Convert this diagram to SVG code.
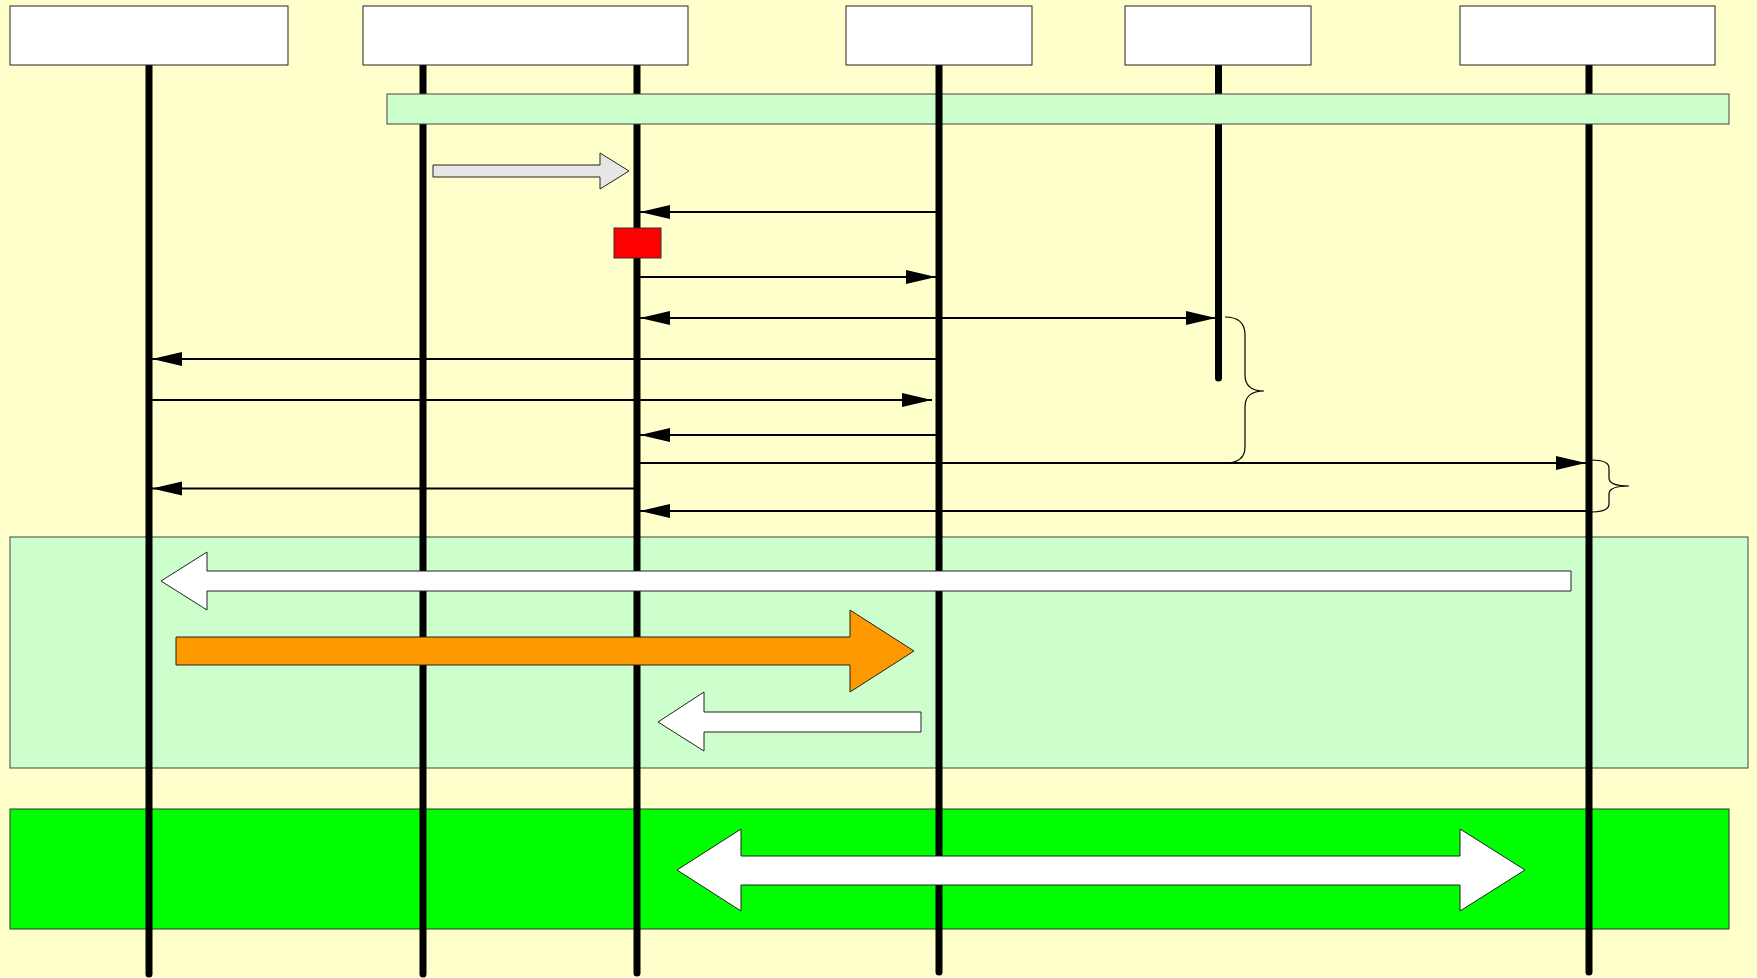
<svg xmlns="http://www.w3.org/2000/svg" width="1757" height="978" viewBox="0 0 1757 978">
<style>
.bg{fill:#FFFFCC}
.box{fill:#FFFFFF;stroke:#222;stroke-width:1}
.life{stroke:#000;stroke-width:7;stroke-linecap:round;fill:none}
.band{fill:#CCFFCC;stroke:#444;stroke-width:1}
.msg{stroke:#000;stroke-width:2;fill:none}
.blk{stroke:#222;stroke-width:1}
.brace{stroke:#000;stroke-width:1.2;fill:none}
</style>
<defs>
<marker id="ah" markerUnits="userSpaceOnUse" markerWidth="31" markerHeight="15" refX="30" refY="7" orient="auto-start-reverse">
<path d="M0,0 L30,7 L0,14 Z" fill="#000"/>
</marker>
</defs>
<rect class="bg" x="0" y="0" width="1757" height="978"/>
<g id="regions">
<rect id="region-mid" class="band" x="10" y="537" width="1738" height="231"/>
<rect id="region-bottom" x="10" y="809" width="1719" height="120" fill="#00FF00" stroke="#333" stroke-width="1"/>
</g>
<g id="lifelines">
<line class="life" x1="149" y1="65" x2="149" y2="974"/>
<line class="life" x1="423" y1="65" x2="423" y2="974"/>
<line class="life" x1="637" y1="65" x2="637" y2="973"/>
<line class="life" x1="1218.5" y1="65" x2="1218.5" y2="378"/>
<line class="life" x1="1589" y1="65" x2="1589" y2="972"/>
</g>
<g id="top-bar">
<rect class="band" x="387" y="94" width="1342" height="30"/>
</g>
<g id="lifeline-4">
<line class="life" x1="939" y1="65" x2="939" y2="972"/>
</g>
<g id="node-1"><rect class="box" x="10" y="6" width="278" height="59"/></g>
<g id="node-2"><rect class="box" x="363" y="6" width="325" height="59"/></g>
<g id="node-3"><rect class="box" x="846" y="6" width="186" height="59"/></g>
<g id="node-4"><rect class="box" x="1125" y="6" width="186" height="59"/></g>
<g id="node-5"><rect class="box" x="1460" y="6" width="255" height="59"/></g>
<g id="activation">
<rect x="614" y="228" width="47" height="30" fill="#FF0000" stroke="#333" stroke-width="1"/>
</g>
<g id="connectors">
<path class="blk" fill="#E6E6E6" d="M433,165 L600,165 L600,153 L629,171 L600,189 L600,177 L433,177 Z"/>
<line class="msg" x1="936" y1="212" x2="640" y2="212" marker-end="url(#ah)"/>
<line class="msg" x1="640" y1="277" x2="936" y2="277" marker-end="url(#ah)"/>
<line class="msg" x1="640" y1="318" x2="1216" y2="318" marker-start="url(#ah)" marker-end="url(#ah)"/>
<line class="msg" x1="937" y1="359" x2="152" y2="359" marker-end="url(#ah)"/>
<line class="msg" x1="152" y1="400" x2="932" y2="400" marker-end="url(#ah)"/>
<line class="msg" x1="937" y1="435" x2="640" y2="435" marker-end="url(#ah)"/>
<line class="msg" x1="640" y1="463" x2="1586" y2="463" marker-end="url(#ah)"/>
<line class="msg" x1="634" y1="488.5" x2="152" y2="488.5" marker-end="url(#ah)"/>
<line class="msg" x1="1588" y1="511" x2="640" y2="511" marker-end="url(#ah)"/>
<path class="brace" d="M1225,317 Q1245,317 1245,335 L1245,375 Q1245,391 1264,391 Q1245,391 1245,407 L1245,447 Q1245,463 1225,463"/>
<path class="brace" d="M1591,460 Q1609,460 1609,468 L1609,478 Q1609,486 1629,486 Q1609,486 1609,494 L1609,504 Q1609,512 1591,512"/>
<path class="blk" fill="#FFFFFF" d="M1571,571 L207,571 L207,552 L161,581 L207,610 L207,591 L1571,591 Z"/>
<path class="blk" fill="#FF9900" d="M176,637 L850,637 L850,610 L914,651 L850,692 L850,665 L176,665 Z"/>
<path class="blk" fill="#FFFFFF" d="M921,712 L704,712 L704,692 L658,722 L704,751 L704,732 L921,732 Z"/>
<path class="blk" fill="#FFFFFF" d="M677,870 L741,829 L741,856 L1460,856 L1460,829 L1525,870 L1460,911 L1460,885 L741,885 L741,911 Z"/>
</g>
</svg>
